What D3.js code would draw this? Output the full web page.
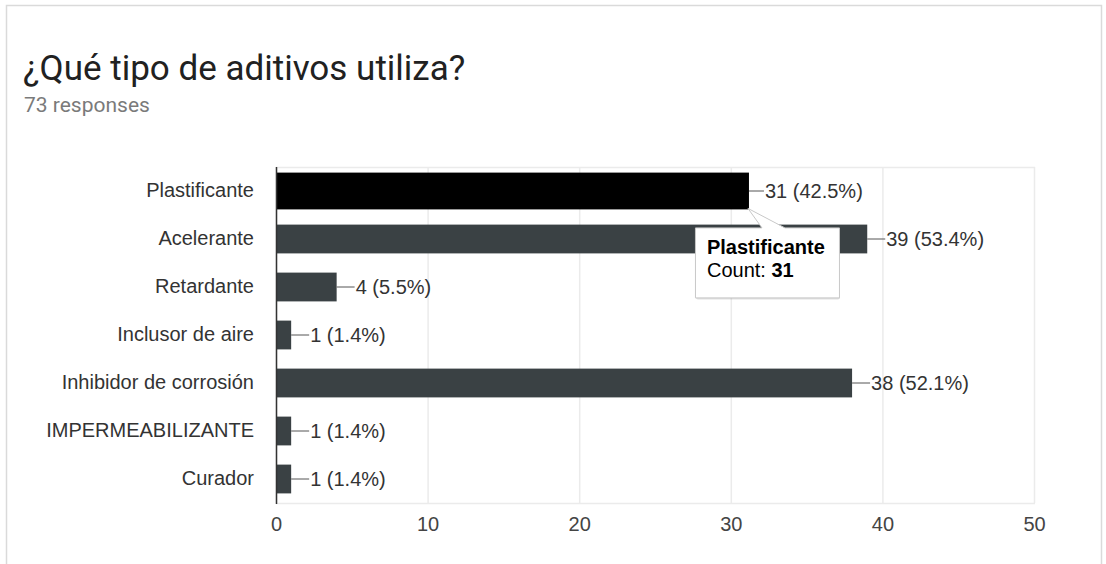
<!DOCTYPE html>
<html>
<head>
<meta charset="utf-8">
<script src="https://cdn.jsdelivr.net/npm/d3@7"></script>
<style>
  html, body { margin: 0; padding: 0; background: #fff; }
  svg text { font-family: "Liberation Sans", Arial, sans-serif; }
</style>
</head>
<body>
<div id="chart"></div>
<script>
// data
let categories = ['Plastificante', 'Acelerante', 'Retardante', 'Inclusor de aire', 'Inhibidor de corrosión', 'IMPERMEABILIZANTE', 'Curador']
let counts = [31, 39, 4, 1, 38, 1, 1]
let percents = ['42.5%', '53.4%', '5.5%', '1.4%', '52.1%', '1.4%', '1.4%']
let ticks = [0, 10, 20, 30, 40, 50]
let totalResponses = 73
let highlighted = 0

let W = 1106, H = 564
let plot = {left: 276, right: 1034, top: 167, bottom: 503}
let fs = 20

let svg = d3.select('#chart').append('svg').attr('width', W).attr('height', H)

// card border
svg.append('path')
    .attr('d', `M6.5 ${H} V5.5 H1101.5 V${H}`)
    .attr('fill', 'none')
    .attr('stroke', '#dadada')
    .attr('stroke-width', 1.5)

svg.append('text')
    .attr('x', 23).attr('y', 80)
    .style('font-family', 'Roboto, sans-serif')
    .attr('font-size', 35)
    .attr('fill', '#212121')
    .text('¿Qué tipo de aditivos utiliza?')

svg.append('text')
    .attr('x', 24).attr('y', 112)
    .style('font-family', 'Roboto, sans-serif')
    .attr('font-size', 21)
    .attr('fill', '#7a7a7a')
    .text(totalResponses + ' responses')

let xScale = d3.scaleLinear().domain([0, 50]).range([plot.left, plot.right])
let yScale = d3.scaleBand().domain(categories).range([plot.top, plot.bottom]).paddingInner(0.4).paddingOuter(0.2)

// gridlines
let grid = svg.append('g')
grid.selectAll('line.v').data(ticks).enter().append('line')
    .attr('x1', d => xScale(d) + .5).attr('x2', d => xScale(d) + .5)
    .attr('y1', plot.top).attr('y2', plot.bottom)
    .attr('stroke', '#ebebeb').attr('stroke-width', 1.5)
grid.selectAll('line.h').data([plot.top, plot.bottom]).enter().append('line')
    .attr('x1', plot.left).attr('x2', plot.right + 1)
    .attr('y1', d => d + .5).attr('y2', d => d + .5)
    .attr('stroke', '#ebebeb').attr('stroke-width', 1.5)

// x axis labels
let xAxis = d3.axisBottom(xScale).tickValues(ticks).tickSize(0).tickPadding(14)
let xg = svg.append('g').attr('transform', `translate(0,${plot.bottom})`).call(xAxis)
xg.select('.domain').remove()
xg.selectAll('text')
    .style('font-family', '"Liberation Sans", Arial, sans-serif')
    .attr('font-size', fs)
    .attr('fill', '#444')

// y axis labels
let yAxis = d3.axisLeft(yScale).tickSize(0).tickPadding(22)
let yg = svg.append('g').attr('transform', `translate(${plot.left},0)`).call(yAxis)
yg.select('.domain').remove()
yg.selectAll('text')
    .style('font-family', '"Liberation Sans", Arial, sans-serif')
    .attr('font-size', fs)
    .attr('fill', '#333')

let rows = categories.map((c, i) => ({name: c, value: counts[i], pct: percents[i], i: i}))

// bars
svg.append('g').selectAll('rect').data(rows).enter().append('rect')
    .attr('x', plot.left)
    .attr('y', d => d.i === highlighted ? yScale(d.name) - 4 : yScale(d.name))
    .attr('width', d => xScale(d.value) - plot.left + (d.i === highlighted ? 3 : 0))
    .attr('height', d => d.i === highlighted ? yScale.bandwidth() + 8 : yScale.bandwidth())
    .attr('fill', d => d.i === highlighted ? '#000' : '#3a4144')

// baseline
svg.append('line')
    .attr('x1', plot.left + .5).attr('x2', plot.left + .5)
    .attr('y1', plot.top).attr('y2', plot.bottom + 1)
    .attr('stroke', '#333').attr('stroke-width', 1.5)

// value labels with leader lines
let labels = svg.append('g').selectAll('g').data(rows).enter().append('g')
labels.append('line')
    .attr('x1', d => xScale(d.value) + (d.i === highlighted ? 3 : 0))
    .attr('x2', d => xScale(d.value) + 18)
    .attr('y1', d => yScale(d.name) + yScale.bandwidth() / 2)
    .attr('y2', d => yScale(d.name) + yScale.bandwidth() / 2)
    .attr('stroke', '#555').attr('stroke-width', 1)
labels.append('text')
    .attr('x', d => xScale(d.value) + 19)
    .attr('y', d => yScale(d.name) + yScale.bandwidth() / 2)
    .attr('dy', '0.36em')
    .attr('font-size', fs)
    .attr('fill', '#333')
    .text(d => `${d.value} (${d.pct})`)

// tooltip for the highlighted bar
let hd = rows[highlighted]
let tipX = xScale(hd.value) + 2
let tipY = yScale(hd.name) + yScale.bandwidth() + 3
let box = {x: tipX - 53, y: tipY + 19, w: 144, h: 70}
let tip = svg.append('g')
tip.append('rect')
    .attr('x', box.x + 1).attr('y', box.y + 2)
    .attr('width', box.w).attr('height', box.h)
    .attr('rx', 2)
    .attr('fill', 'rgba(0,0,0,0.12)')
tip.append('path')
    .attr('d', `M${box.x + .5} ${box.y + .5} H${tipX + 14} L${tipX} ${tipY} L${tipX + 37} ${box.y + .5} H${box.x + box.w + .5} V${box.y + box.h + .5} H${box.x + .5} Z`)
    .attr('fill', '#fff')
    .attr('stroke', '#c8c8c8')
    .attr('stroke-width', 1)
tip.append('text')
    .attr('x', box.x + 12).attr('y', box.y + 27)
    .attr('font-size', fs).attr('font-weight', 'bold').attr('fill', '#000')
    .text(hd.name)
let t2 = tip.append('text')
    .attr('x', box.x + 12).attr('y', box.y + 50)
    .attr('font-size', fs).attr('fill', '#000')
t2.append('tspan').text('Count: ')
t2.append('tspan').attr('font-weight', 'bold').text(hd.value)
</script>
</body>
</html>
